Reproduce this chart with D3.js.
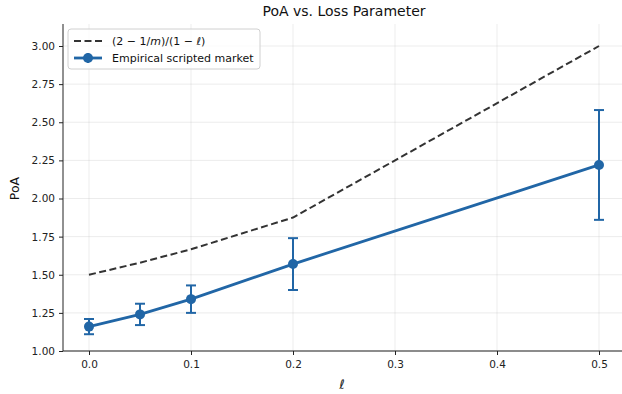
<!DOCTYPE html>
<html>
<head>
<meta charset="utf-8">
<script src="https://cdn.jsdelivr.net/npm/d3@7"></script>
<style>
  body { margin: 0; background: #fff; }
  text { font-family: "DejaVu Sans", sans-serif; }
</style>
</head>
<body>
<div id="chart"></div>
<script>
// data
const lossValues = [0, 0.05, 0.1, 0.2, 0.5];
const boundValues = [1.5, 1.579, 1.667, 1.875, 3.0];
const empiricalMeans = [1.16, 1.24, 1.34, 1.57, 2.22];
const empiricalErrors = [0.05, 0.07, 0.09, 0.17, 0.36];
const xTicks = [0.0, 0.1, 0.2, 0.3, 0.4, 0.5];
const yTicks = [1.00, 1.25, 1.50, 1.75, 2.00, 2.25, 2.50, 2.75, 3.00];

const width = 622, height = 394;
const blue = '#2166a6';
const dark = '#333333';

const x = d3.scaleLinear().domain([0, 0.5]).range([89, 599]);
const y = d3.scaleLinear().domain([1, 3]).range([351, 46]);
const plotLeft = 63, plotRight = 622, plotTop = 24, plotBottom = 351;

const svg = d3.select('#chart').append('svg')
  .attr('width', width)
  .attr('height', height);

// grid
const grid = svg.append('g').attr('stroke', '#b0b0b0').attr('stroke-opacity', 0.3).attr('stroke-width', 0.8);
grid.selectAll('.gx').data(xTicks).join('line')
  .attr('x1', d => x(d)).attr('x2', d => x(d))
  .attr('y1', plotTop).attr('y2', plotBottom);
grid.selectAll('.gy').data(yTicks).join('line')
  .attr('x1', plotLeft).attr('x2', plotRight)
  .attr('y1', d => y(d)).attr('y2', d => y(d));

// axes
const xAxis = svg.append('g')
  .attr('transform', `translate(0,${plotBottom})`)
  .call(d3.axisBottom(x).tickValues(xTicks).tickFormat(d3.format('.1f')).tickSizeOuter(0).tickSize(4).tickPadding(6));
xAxis.select('.domain').attr('d', `M${plotLeft},0H${plotRight}`);

const yAxis = svg.append('g')
  .attr('transform', `translate(${plotLeft},0)`)
  .call(d3.axisLeft(y).tickValues(yTicks).tickFormat(d3.format('.2f')).tickSizeOuter(0).tickSize(4).tickPadding(4));
yAxis.select('.domain').attr('d', `M0,${plotTop}V${plotBottom}`);

svg.selectAll('.tick text').attr('font-size', 10.5).attr('fill', '#222');
svg.selectAll('.tick line, .domain').attr('stroke', '#222').attr('stroke-width', 1);

// dashed bound line
const line = d3.line().x((d, i) => x(lossValues[i])).y(d => y(d));
svg.append('path')
  .datum(boundValues)
  .attr('d', line)
  .attr('fill', 'none')
  .attr('stroke', dark)
  .attr('stroke-width', 2)
  .attr('stroke-dasharray', '7,3.5');

// empirical line
svg.append('path')
  .datum(empiricalMeans)
  .attr('d', line)
  .attr('fill', 'none')
  .attr('stroke', blue)
  .attr('stroke-width', 2.8);

// error bars
const eb = svg.append('g').attr('stroke', blue).attr('stroke-width', 2);
empiricalMeans.forEach((m, i) => {
  const cx = x(lossValues[i]);
  const lo = y(m - empiricalErrors[i]), hi = y(m + empiricalErrors[i]);
  eb.append('line').attr('x1', cx).attr('x2', cx).attr('y1', lo).attr('y2', hi);
  eb.append('line').attr('x1', cx - 5).attr('x2', cx + 5).attr('y1', lo).attr('y2', lo);
  eb.append('line').attr('x1', cx - 5).attr('x2', cx + 5).attr('y1', hi).attr('y2', hi);
});

svg.selectAll('.marker').data(empiricalMeans).join('circle')
  .attr('cx', (d, i) => x(lossValues[i]))
  .attr('cy', d => y(d))
  .attr('r', 5)
  .attr('fill', blue);

// title and labels
svg.append('text')
  .attr('x', 344).attr('y', 16)
  .attr('text-anchor', 'middle')
  .attr('font-size', 14)
  .attr('fill', '#111')
  .text('PoA vs. Loss Parameter');

svg.append('text')
  .attr('x', 342).attr('y', 389)
  .attr('text-anchor', 'middle')
  .attr('font-size', 13)
  .attr('font-style', 'italic')
  .attr('fill', '#222')
  .text('ℓ');

svg.append('text')
  .attr('transform', `translate(19,${(plotTop + plotBottom) / 2 + 1}) rotate(-90)`)
  .attr('text-anchor', 'middle')
  .attr('font-size', 12.5)
  .attr('fill', '#111')
  .text('PoA');

// legend
const lg = svg.append('g').attr('transform', 'translate(68,29)');
lg.append('rect')
  .attr('width', 192).attr('height', 40).attr('rx', 3)
  .attr('fill', '#fff').attr('fill-opacity', 0.8)
  .attr('stroke', '#d0d0d0').attr('stroke-width', 1);
lg.append('line')
  .attr('x1', 6).attr('x2', 34).attr('y1', 12).attr('y2', 12)
  .attr('stroke', dark).attr('stroke-width', 2).attr('stroke-dasharray', '7,3.5');
const t1 = lg.append('text').attr('x', 44).attr('y', 16).attr('font-size', 11).attr('fill', '#111');
t1.append('tspan').text('(2 \u2212 1/');
t1.append('tspan').attr('font-style', 'italic').text('m');
t1.append('tspan').text(')/(1 \u2212 ');
t1.append('tspan').attr('font-style', 'italic').text('ℓ');
t1.append('tspan').text(')');
lg.append('line')
  .attr('x1', 6).attr('x2', 34).attr('y1', 29).attr('y2', 29)
  .attr('stroke', blue).attr('stroke-width', 2.8);
lg.append('line')
  .attr('x1', 20).attr('x2', 20).attr('y1', 24).attr('y2', 34)
  .attr('stroke', blue).attr('stroke-width', 2);
lg.append('circle').attr('cx', 20).attr('cy', 29).attr('r', 5).attr('fill', blue);
lg.append('text').attr('x', 44).attr('y', 33).attr('font-size', 11).attr('fill', '#111')
  .text('Empirical scripted market');
</script>
</body>
</html>
